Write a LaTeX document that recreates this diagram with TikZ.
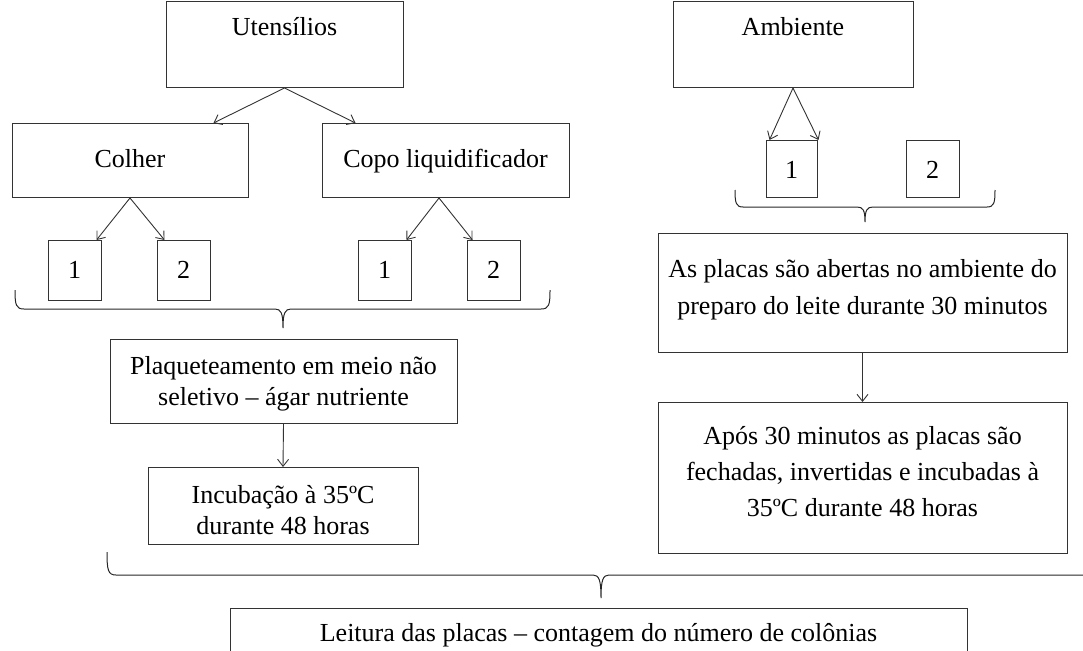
\documentclass[tikz,border=0pt]{standalone}
\usepackage{fontspec}
\setmainfont{Liberation Serif}
\usetikzlibrary{arrows.meta}
\begin{document}
\begin{tikzpicture}[x=1pt,y=-1pt,
  bx/.style={draw=black!80, line width=1pt, anchor=north, inner sep=0pt, align=center, font=\fontsize{26}{31}\selectfont},
  sm/.style={minimum width=53pt, text height=38pt, text depth=22pt},
  asm/.style={text height=38pt, text depth=19pt},
  arr/.style={draw=black!80, line width=0.9pt, -{Straight Barb[length=7pt,width=11pt]}},
  brc/.style={draw=black!85, line width=1pt}]
\useasboundingbox (0,0) rectangle (1083,650);

% top boxes
\node[bx, minimum width=237pt, text height=34pt, text depth=52pt] (uten) at (284.5,1) {Utensílios};
\node[bx, minimum width=240pt, text height=34pt, text depth=52pt] (amb) at (793,1) {Ambiente};
\node[bx, minimum width=236pt, text height=44pt, text depth=30pt] (colher) at (130,123) {Colher};
\node[bx, minimum width=247pt, text height=44pt, text depth=30pt] (copo) at (445.5,123) {Copo liquidificador};

% small boxes
\node[bx, sm] (c1) at (74.5,240) {1};
\node[bx, sm] (c2) at (183.5,240) {2};
\node[bx, sm] (p1) at (384.5,240) {1};
\node[bx, sm] (p2) at (493.5,240) {2};
\node[bx, asm, minimum width=51pt] (a1) at (791.5,140) {1};
\node[bx, asm, minimum width=53pt] (a2) at (932.5,140) {2};

% arrows
\draw[arr] (uten.south) -- ([xshift=-35pt]colher.north east);
\draw[arr] (uten.south) -- ([xshift=34pt]copo.north west);
\draw[arr] (colher.south) -- ([xshift=-5pt]c1.north east);
\draw[arr] (colher.south) -- ([xshift=8pt]c2.north west);
\draw[arr] ([xshift=-6.5pt]copo.south) -- ([xshift=-5pt]p1.north east);
\draw[arr] ([xshift=-6.5pt]copo.south) -- ([xshift=6pt]p2.north west);
\draw[arr] (amb.south) -- ([xshift=4pt]a1.north west);
\draw[arr] (amb.south) -- ([xshift=1pt]a1.north east);

% left brace
\draw[brc] (15,290) .. controls (15,305) and (16,309) .. (24,309) -- (275,309)
  .. controls (281,309) and (283,313) .. (283,328)
  .. controls (283,313) and (285,309) .. (291,309) -- (541,309)
  .. controls (549,309) and (550,305) .. (550,290);

\node[bx, minimum width=347pt, text height=66pt, text depth=18pt] (plaq) at (283.5,339) {Plaqueteamento em meio não\\seletivo – ágar nutriente};
\node[bx, minimum width=270pt, text height=67pt, text depth=10pt] (incub) at (283,467) {Incubação à 35ºC\\durante 48 horas};
\draw[arr] (plaq.south) -- (incub.north);

% right brace
\draw[brc] (735,190) .. controls (735,203) and (736,207) .. (743,207) -- (857,207)
  .. controls (863,207) and (865,210) .. (865,222)
  .. controls (865,210) and (867,207) .. (873,207) -- (987,207)
  .. controls (994,207) and (995,203) .. (995,190);

\node[bx, font=\fontsize{26}{37}\selectfont, minimum width=409pt, text height=81pt, text depth=38pt] (placas) at (862.5,233) {As placas são abertas no ambiente do\\preparo do leite durante 30 minutos};
\node[bx, font=\fontsize{26}{36}\selectfont, minimum width=409pt, text height=114pt, text depth=37pt] (apos) at (862.5,402) {Após 30 minutos as placas são\\fechadas, invertidas e incubadas à\\35ºC durante 48 horas};
\draw[arr] (placas.south) -- (apos.north);

% big brace
\draw[brc] (107,552) .. controls (107,570) and (108,575) .. (116,575) -- (593,575)
  .. controls (599,575) and (601,580) .. (601,598)
  .. controls (601,580) and (603,575) .. (609,575) -- (1100,575)
  .. controls (1108,575) and (1110,570) .. (1110,552);

\node[bx, minimum width=737pt, text height=33pt, text depth=80pt] (leit) at (598.5,608) {Leitura das placas – contagem do número de colônias};
\end{tikzpicture}
\end{document}
